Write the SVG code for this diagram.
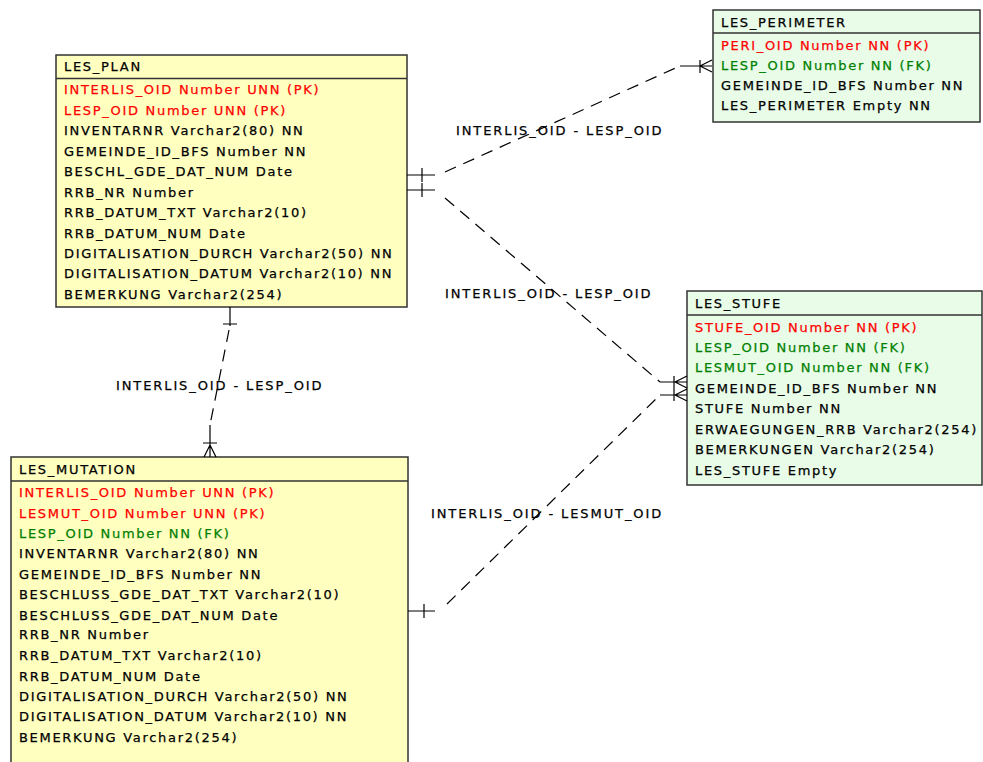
<svg xmlns="http://www.w3.org/2000/svg" width="983" height="762" viewBox="0 0 983 762">
  <style>
    text { font-family: "DejaVu Sans", Verdana, sans-serif; font-size: 13px; letter-spacing: 1.7px; fill: #000; stroke: #000; stroke-width: 0.25px; }
    .lbl { letter-spacing: 1.9px; }
    .pk { fill: #ff0000; stroke: #ff0000; }
    .fk { fill: #008000; stroke: #008000; }
    .tbl-y { fill: #ffffc0; stroke: #333; stroke-width: 1.5; }
    .tbl-g { fill: #e8fce8; stroke: #333; stroke-width: 1.5; }
    .sep { stroke: #333; stroke-width: 1.5; }
    .solid { fill: none; stroke: #000; stroke-width: 1.2; }
    .dash { fill: none; stroke: #000; stroke-width: 1.2; stroke-dasharray: 12 8; }
  </style>

  <!-- LES_PLAN -->
  <g id="les_plan">
    <rect class="tbl-y" x="56" y="55" width="351" height="252"/>
    <line class="sep" x1="56" y1="78.5" x2="407" y2="78.5"/>
    <text x="64" y="71">LES_PLAN</text>
    <text class="pk" x="64" y="94">INTERLIS_OID Number UNN (PK)</text>
    <text class="pk" x="64" y="115">LESP_OID Number UNN (PK)</text>
    <text x="64" y="135">INVENTARNR Varchar2(80) NN</text>
    <text x="64" y="156">GEMEINDE_ID_BFS Number NN</text>
    <text x="64" y="176">BESCHL_GDE_DAT_NUM Date</text>
    <text x="64" y="197">RRB_NR Number</text>
    <text x="64" y="217">RRB_DATUM_TXT Varchar2(10)</text>
    <text x="64" y="238">RRB_DATUM_NUM Date</text>
    <text x="64" y="258">DIGITALISATION_DURCH Varchar2(50) NN</text>
    <text x="64" y="278">DIGITALISATION_DATUM Varchar2(10) NN</text>
    <text x="64" y="299">BEMERKUNG Varchar2(254)</text>
  </g>

  <!-- LES_PERIMETER -->
  <g id="les_perimeter">
    <rect class="tbl-g" x="713" y="10" width="267" height="112"/>
    <line class="sep" x1="713" y1="33" x2="980" y2="33"/>
    <text x="721" y="27">LES_PERIMETER</text>
    <text class="pk" x="721" y="50">PERI_OID Number NN (PK)</text>
    <text class="fk" x="721" y="70">LESP_OID Number NN (FK)</text>
    <text x="721" y="90">GEMEINDE_ID_BFS Number NN</text>
    <text x="721" y="110">LES_PERIMETER Empty NN</text>
  </g>

  <!-- LES_STUFE -->
  <g id="les_stufe">
    <rect class="tbl-g" x="687" y="291" width="295" height="194"/>
    <line class="sep" x1="687" y1="315" x2="982" y2="315"/>
    <text x="695" y="308">LES_STUFE</text>
    <text class="pk" x="695" y="332">STUFE_OID Number NN (PK)</text>
    <text class="fk" x="695" y="352">LESP_OID Number NN (FK)</text>
    <text class="fk" x="695" y="372">LESMUT_OID Number NN (FK)</text>
    <text x="695" y="393">GEMEINDE_ID_BFS Number NN</text>
    <text x="695" y="413">STUFE Number NN</text>
    <text x="695" y="434">ERWAEGUNGEN_RRB Varchar2(254)</text>
    <text x="695" y="454">BEMERKUNGEN Varchar2(254)</text>
    <text x="695" y="475">LES_STUFE Empty</text>
  </g>

  <!-- LES_MUTATION -->
  <g id="les_mutation">
    <rect class="tbl-y" x="11" y="457" width="397" height="320"/>
    <line class="sep" x1="11" y1="481" x2="408" y2="481"/>
    <text x="19" y="474">LES_MUTATION</text>
    <text class="pk" x="19" y="497">INTERLIS_OID Number UNN (PK)</text>
    <text class="pk" x="19" y="518">LESMUT_OID Number UNN (PK)</text>
    <text class="fk" x="19" y="538">LESP_OID Number NN (FK)</text>
    <text x="19" y="558">INVENTARNR Varchar2(80) NN</text>
    <text x="19" y="579">GEMEINDE_ID_BFS Number NN</text>
    <text x="19" y="599">BESCHLUSS_GDE_DAT_TXT Varchar2(10)</text>
    <text x="19" y="620">BESCHLUSS_GDE_DAT_NUM Date</text>
    <text x="19" y="639">RRB_NR Number</text>
    <text x="19" y="660">RRB_DATUM_TXT Varchar2(10)</text>
    <text x="19" y="681">RRB_DATUM_NUM Date</text>
    <text x="19" y="701">DIGITALISATION_DURCH Varchar2(50) NN</text>
    <text x="19" y="721">DIGITALISATION_DATUM Varchar2(10) NN</text>
    <text x="19" y="742">BEMERKUNG Varchar2(254)</text>
  </g>

  <!-- relationships -->
  <g id="connectors">
    <!-- LES_PLAN -> LES_PERIMETER -->
    <path class="solid" d="M407 175 H435 M422 168 V182"/>
    <path class="dash" d="M445 172 L680 66"/>
    <path class="solid" d="M680 66 H712 M700 60 V73 M700 66 L712 60 M700 66 L712 72"/>
    <text class="lbl" x="456" y="135">INTERLIS_OID - LESP_OID</text>

    <!-- LES_PLAN -> LES_STUFE -->
    <path class="solid" d="M407 190 H435 M422 183 V197"/>
    <path class="dash" d="M445 198 L660 382"/>
    <path class="solid" d="M660 382 H687 M674 376 V389 M675 382 L687 376 M675 382 L687 388"/>
    <text class="lbl" x="445" y="298">INTERLIS_OID - LESP_OID</text>

    <!-- LES_MUTATION -> LES_STUFE -->
    <path class="solid" d="M408 611 H435 M424 604 V618"/>
    <path class="dash" d="M447 604 L660 395"/>
    <path class="solid" d="M660 395 H687 M674 389 V401 M675 395 L687 389 M675 395 L687 401"/>
    <text class="lbl" x="431" y="518">INTERLIS_OID - LESMUT_OID</text>

    <!-- LES_PLAN -> LES_MUTATION -->
    <path class="solid" d="M230 307 V326 M223 324 H237"/>
    <path class="dash" d="M229 330 L210 425"/>
    <path class="solid" d="M210 425 V457 M203 443 H217 M210 445 L204 457 M210 445 L216 457"/>
    <text class="lbl" x="116" y="390">INTERLIS_OID - LESP_OID</text>
  </g>
</svg>
